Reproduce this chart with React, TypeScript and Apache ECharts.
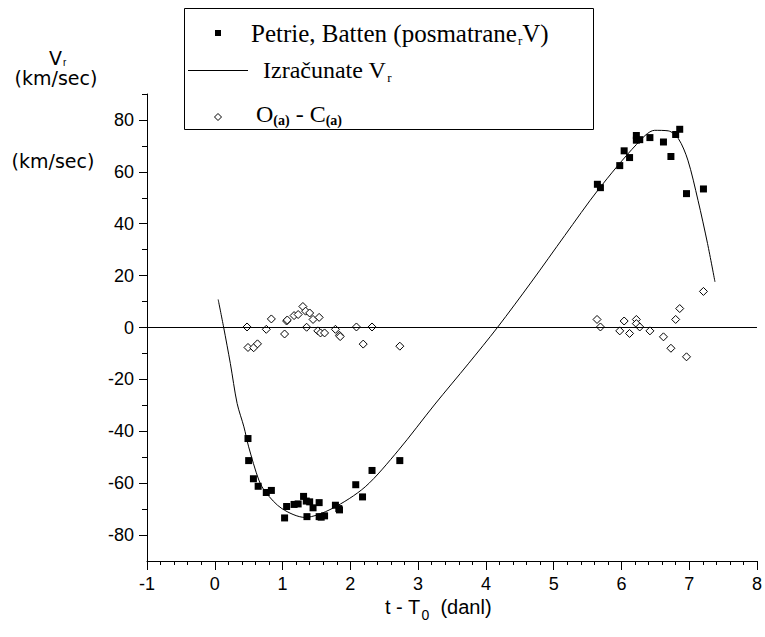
import React, { useEffect, useRef } from "react";
import * as echarts from "echarts";

const xTicks = [-1, 0, 1, 2, 3, 4, 5, 6, 7, 8];
const yMajorTicks = [-80, -60, -40, -20, 0, 20, 40, 60, 80];
const yMinorTicks = [-70, -50, -30, -10, 10, 30, 50, 70, 90];

// Petrie, Batten observed radial velocities (t - T0, Vr)
const obsT = [0.49, 0.5, 0.57, 0.64, 0.76, 0.835, 1.03, 1.06, 1.17, 1.23, 1.31, 1.35, 1.36, 1.4, 1.45, 1.54, 1.54, 1.57, 1.62, 1.78, 1.83, 1.84, 2.08, 2.18, 2.32, 2.73,
  5.645, 5.69, 5.975, 6.04, 6.12, 6.22, 6.22, 6.27, 6.42, 6.62, 6.73, 6.8, 6.86, 6.96, 7.21];
const obsV = [-42.8, -51.3, -58.3, -61.2, -63.6, -62.8, -73.4, -69, -68.2, -68, -65.1, -66.9, -72.9, -67.2, -69.5, -67.5, -72.9, -73.1, -72.6, -68.5, -69.8, -70.3, -60.6, -65.3, -55.1, -51.3,
  55.2, 53.9, 62.4, 68.1, 65.5, 74, 72.2, 72.4, 73.2, 71.5, 65.9, 74.4, 76.4, 51.6, 53.4];

// Computed Vr curve
const calcT = [0.05, 0.13, 0.23, 0.33, 0.43, 0.5, 0.65, 0.75, 0.99, 1.33, 1.73, 2.22, 2.71, 3.25, 3.74, 4.17, 4.67, 5.165, 5.655, 6.22, 6.49, 6.69, 6.84, 6.98, 7.13, 7.27, 7.38];
const calcV = [10.8, 0.2, -13.9, -29.3, -38.3, -46, -58.8, -63.5, -69.8, -73.2, -69.8, -61.4, -47.3, -29.5, -14, 0, 17.5, 35.5, 53, 70.5, 76, 75.8, 72.8, 64.5, 49, 32.4, 17.6];

// O(a) - C(a) residuals
const resT = [0.476, 0.49, 0.574, 0.63, 0.76, 0.835, 1.03, 1.06, 1.07, 1.17, 1.23, 1.3, 1.34, 1.355, 1.4, 1.45, 1.54, 1.52, 1.56, 1.62, 1.78, 1.84, 1.85, 2.09, 2.19, 2.32, 2.73,
  5.64, 5.69, 5.975, 6.04, 6.12, 6.22, 6.22, 6.27, 6.42, 6.62, 6.73, 6.8, 6.86, 6.96, 7.21];
const resV = [0.2, -7.7, -7.8, -6.3, -0.7, 3.3, -2.5, 2.5, 2.9, 4.6, 5, 8.1, 6.3, 0.1, 5.6, 3.1, 3.9, -1.3, -2.1, -2.1, -0.7, -3, -3.5, 0.2, -6.4, 0.2, -7.2,
  3.1, 0.2, -1.3, 2.5, -2.3, 3.1, 1.5, 0.2, -1.3, -3.6, -8, 3.1, 7.3, -11.3, 13.9];

const SANS = "'Liberation Sans', Arial, sans-serif";
const WIDE = "'DejaVu Sans', 'Liberation Sans', sans-serif";
const SERIF = "'Liberation Serif', 'Times New Roman', serif";

export default function App() {
  const ref = useRef<HTMLDivElement>(null);
  useEffect(() => {
    document.body.style.margin = "0";
    const chart = echarts.init(ref.current!, null, { renderer: "svg" });
    const obs = obsT.map((t, i) => [t, obsV[i]]);
    const calc = calcT.map((t, i) => [t, calcV[i]]);
    const res = resT.map((t, i) => [t, resV[i]]);
    chart.setOption({
      animation: false,
      backgroundColor: "#fff",
      grid: { left: 147, right: 7, top: 94, bottom: 76 },
      xAxis: {
        type: "value",
        min: -1,
        max: 8,
        interval: 1,
        splitLine: { show: false },
        axisLine: { onZero: false, lineStyle: { color: "#000", width: 1 } },
        axisTick: { show: true, length: 9, lineStyle: { color: "#000" } },
        minorTick: { show: true, splitNumber: 5, length: 4, lineStyle: { color: "#000" } },
        axisLabel: {
          color: "#000",
          fontFamily: SANS,
          fontSize: 18,
          margin: 14,
          customValues: xTicks,
        },
      },
      yAxis: [
        {
          type: "value",
          min: -90,
          max: 90,
          splitLine: { show: false },
          axisLine: { show: true, onZero: false, lineStyle: { color: "#000", width: 1 } },
          axisTick: { show: true, length: 8, lineStyle: { color: "#000" }, customValues: yMajorTicks },
          axisLabel: {
            color: "#000",
            fontFamily: SANS,
            fontSize: 18,
            margin: 13,
            customValues: yMajorTicks,
          },
        },
        {
          type: "value",
          min: -90,
          max: 90,
          position: "left",
          offset: 0,
          splitLine: { show: false },
          axisLine: { show: false, onZero: false },
          axisTick: { show: true, length: 5, lineStyle: { color: "#000" }, customValues: yMinorTicks },
          axisLabel: { show: false },
        },
      ],
      series: [
        {
          name: "Izračunate Vr",
          type: "line",
          data: calc,
          showSymbol: false,
          smooth: 0.3,
          lineStyle: { color: "#000", width: 1 },
          z: 2,
          markLine: {
            silent: true,
            symbol: ["none", "none"],
            label: { show: false },
            lineStyle: { color: "#000", width: 1, type: "solid" },
            data: [{ yAxis: 0 }],
          },
        },
        {
          name: "Petrie, Batten",
          type: "scatter",
          data: obs,
          symbol: "rect",
          symbolSize: 7,
          itemStyle: { color: "#000", opacity: 1 },
          z: 3,
        },
        {
          name: "O-C",
          type: "scatter",
          data: res,
          symbol: "diamond",
          symbolSize: 8,
          itemStyle: { color: "#fff", borderColor: "#000", borderWidth: 1, opacity: 1 },
          z: 4,
        },
      ],
      graphic: [
        // y-axis titles
        {
          type: "text",
          left: 49,
          top: 48,
          style: {
            text: "{v|V}{s|r}",
            rich: {
              v: { fontFamily: WIDE, fontSize: 19, fill: "#000" },
              s: { fontFamily: SANS, fontSize: 10, fill: "#000", padding: [10, 0, 0, 1] },
            },
          },
        },
        {
          type: "text",
          x: 56,
          y: 78,
          style: { text: "(km/sec)", fontFamily: WIDE, fontSize: 19, fill: "#000", align: "center", verticalAlign: "middle" },
        },
        {
          type: "text",
          x: 53,
          y: 161,
          style: { text: "(km/sec)", fontFamily: WIDE, fontSize: 19, fill: "#000", align: "center", verticalAlign: "middle" },
        },
        // x-axis title
        {
          type: "text",
          left: 385,
          top: 597,
          style: {
            text: "{t|t - T}{s|0}{t|  (danl)}",
            rich: {
              t: { fontFamily: SANS, fontSize: 20, fill: "#000" },
              s: { fontFamily: SANS, fontSize: 14, fill: "#000", padding: [15, 0, 0, 1] },
            },
          },
        },
        // legend box
        {
          type: "rect",
          shape: { x: 184.5, y: 8.5, width: 409, height: 121 },
          style: { fill: "#fff", stroke: "#000", lineWidth: 1 },
          z: 10,
        },
        {
          type: "rect",
          shape: { x: 215, y: 30, width: 6, height: 6 },
          style: { fill: "#000" },
          z: 11,
        },
        {
          type: "text",
          x: 251,
          y: 33,
          z: 11,
          style: {
            text: "{a|Petrie, Batten (posmatrane}{s|r}{a|V)}",
            verticalAlign: "middle",
            rich: {
              a: { fontFamily: SERIF, fontSize: 25, fill: "#000" },
              s: { fontFamily: SERIF, fontSize: 13, fill: "#000", padding: [14, 0, 0, 1] },
            },
          },
        },
        {
          type: "line",
          shape: { x1: 188, y1: 70.5, x2: 248, y2: 70.5 },
          style: { stroke: "#000", lineWidth: 1 },
          z: 11,
        },
        {
          type: "text",
          x: 263,
          y: 70,
          z: 11,
          style: {
            text: "{a|Izračunate V}{s|r}",
            verticalAlign: "middle",
            rich: {
              a: { fontFamily: SERIF, fontSize: 24, fill: "#000" },
              s: { fontFamily: SERIF, fontSize: 13, fill: "#000", padding: [14, 0, 0, 1] },
            },
          },
        },
        {
          type: "polygon",
          shape: { points: [[218, 113.5], [221.5, 117], [218, 120.5], [214.5, 117]] },
          style: { fill: "#fff", stroke: "#000", lineWidth: 1 },
          z: 11,
        },
        {
          type: "text",
          x: 256,
          y: 114,
          z: 11,
          style: {
            text: "{a|O}{s|(a)}{a| - C}{s|(a)}",
            verticalAlign: "middle",
            rich: {
              a: { fontFamily: SERIF, fontSize: 24, fill: "#000" },
              s: { fontFamily: SERIF, fontSize: 14, fontWeight: "bold", fill: "#000", padding: [13, 0, 0, 0] },
            },
          },
        },
      ],
    });
    return () => chart.dispose();
  }, []);
  return <div ref={ref} style={{ width: 765, height: 637 }} />;
}
